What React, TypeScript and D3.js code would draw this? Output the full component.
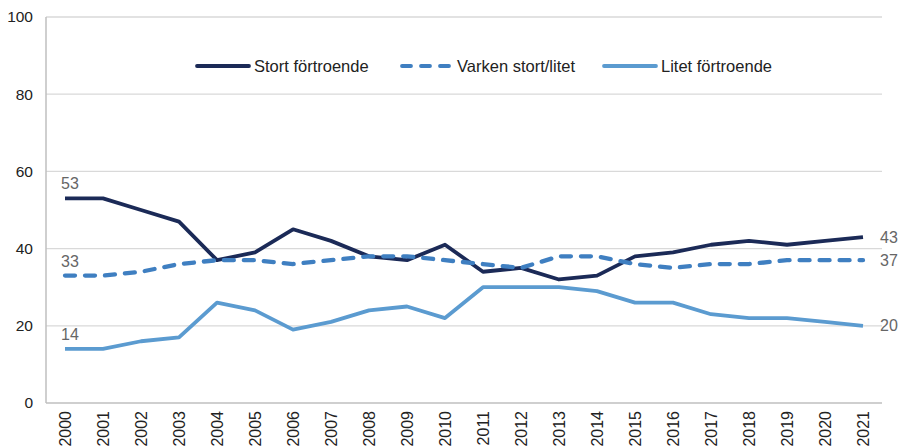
import React from "react";
import * as d3 from "d3";

const years = d3.range(2000, 2022).map(String);
const stort = [53, 53, 50, 47, 37, 39, 45, 42, 38, 37, 41, 34, 35, 32, 33, 38, 39, 41, 42, 41, 42, 43];
const varken = [33, 33, 34, 36, 37, 37, 36, 37, 38, 38, 37, 36, 35, 38, 38, 36, 35, 36, 36, 37, 37, 37];
const litet = [14, 14, 16, 17, 26, 24, 19, 21, 24, 25, 22, 30, 30, 30, 29, 26, 26, 23, 22, 22, 21, 20];
const yTicks = [0, 20, 40, 60, 80, 100];

const series = [
  { name: "Stort förtroende", values: stort, color: "#1b2a57", dash: "" },
  { name: "Varken stort/litet", values: varken, color: "#3f7fc1", dash: "10,10" },
  { name: "Litet förtroende", values: litet, color: "#5b9bd0", dash: "" },
];

const W = 901, H = 448;
const left = 46, right = 882, top = 17, bottom = 403;

export default function App() {
  const x = d3.scalePoint<string>().domain(years).range([left, right]).padding(0.5);
  const y = d3.scaleLinear().domain([0, 100]).range([bottom, top]);
  const line = d3.line<number>().x((_, i) => x(years[i])!).y((d) => y(d));
  const font = "'Liberation Sans', Arial, sans-serif";
  const legendX = [197, 400, 604];
  const first = years[0], last = years[years.length - 1];

  return (
    <svg width={W} height={H} style={{ position: "absolute", left: 0, top: 0, background: "#fff" }} fontFamily={font}>
      {yTicks.map((t) => (
        <g key={t}>
          {t > 0 && <line x1={left} x2={right} y1={y(t)} y2={y(t)} stroke="#d9d9d9" strokeWidth={1.3} />}
          <text x={33} y={y(t)} dy="0.35em" textAnchor="end" fontSize={15.5} fill="#222">{t}</text>
        </g>
      ))}
      <line x1={left} x2={left} y1={top} y2={bottom} stroke="#bfbfbf" strokeWidth={1.5} />
      <line x1={left} x2={right} y1={bottom} y2={bottom} stroke="#bfbfbf" strokeWidth={1.5} />
      {years.map((yr) => (
        <text key={yr} transform={`translate(${x(yr)! + 5.5},${bottom + 8}) rotate(-90)`} textAnchor="end" fontSize={16} fill="#222">{yr}</text>
      ))}
      {series.map((s) => (
        <path key={s.name} d={line(s.values)!} fill="none" stroke={s.color} strokeWidth={s.dash ? 4.3 : 3.8} strokeDasharray={s.dash || undefined} strokeLinejoin="round" strokeLinecap={s.dash ? "round" : "butt"} />
      ))}
      {series.map((s) => (
        <g key={s.name + "lbl"} fontSize={16} fill="#666">
          <text x={x(first)! - 4} y={y(s.values[0]) - 9}>{s.values[0]}</text>
          <text x={x(last)! + 17} y={y(s.values[s.values.length - 1])} dy="0.35em">{s.values[s.values.length - 1]}</text>
        </g>
      ))}
      {series.map((s, i) => (
        <g key={s.name + "leg"} transform={`translate(${legendX[i]},66)`}>
          <line x1={s.dash ? 2 : 0} x2={52} y1={0} y2={0} stroke={s.color} strokeWidth={3.8} strokeDasharray={s.dash ? "9,10" : undefined} strokeLinecap="round" />
          <text x={57} y={0} dy="0.36em" fontSize={16.5} fill="#222">{s.name}</text>
        </g>
      ))}
    </svg>
  );
}
